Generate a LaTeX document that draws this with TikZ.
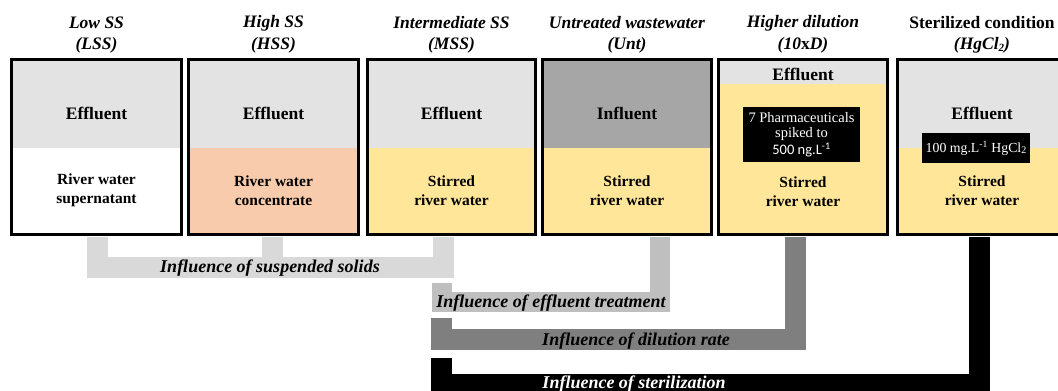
\documentclass[tikz,border=0pt]{standalone}
\usepackage{fontspec}
\setmainfont{Liberation Serif}
\newfontfamily\calib{Carlito}
\definecolor{topgray}{HTML}{E3E3E3}
\definecolor{salmon}{HTML}{F8CBAD}
\definecolor{paleyellow}{HTML}{FFE699}
\definecolor{influgray}{HTML}{A6A6A6}
\definecolor{brA}{HTML}{D9D9D9}
\definecolor{brB}{HTML}{BFBFBF}
\definecolor{brC}{HTML}{7F7F7F}
\tikzset{
  ttl/.style={font=\fontsize{17.5}{20}\selectfont\bfseries\itshape, align=center, inner sep=0pt},
  ttlup/.style={font=\fontsize{17.5}{20}\selectfont\bfseries, align=center, inner sep=0pt},
  bigtxt/.style={font=\fontsize{17.5}{20}\selectfont\bfseries, inner sep=0pt},
  lowtxt/.style={font=\fontsize{15.5}{19}\selectfont\bfseries, align=center, inner sep=0pt},
  boxframe/.style={draw=black, line width=2.8pt},
  bracket/.style={line width=21pt, miter limit=10},
  brlabel/.style={font=\fontsize{18}{20}\selectfont\bfseries\itshape, inner sep=0pt},
  blacklabel/.style={fill=black, text=white, inner sep=0pt, align=center}
}
\begin{document}
\begin{tikzpicture}[x=1pt,y=-1pt]
\useasboundingbox (0,0) rectangle (1058,391);
% ---------- titles ----------
\node[ttl] (t1) at (96.5,23) {Low SS};
\node[ttl] (t1b) at (96.5,45) {(LSS)};
\node[ttl] (t2) at (273.5,23) {High SS};
\node[ttl] (t2b) at (273.5,45) {(HSS)};
\node[ttl] (t3) at (451.5,23) {Intermediate SS};
\node[ttl] (t3b) at (451.5,45) {(MSS)};
\node[ttl] (t4) at (627,23) {Untreated wastewater};
\node[ttl] (t4b) at (627,45) {(\textit{Unt})};
\node[ttl] (t5) at (803,23) {Higher dilution};
\node[ttl] (t5b) at (803,45) {(\textit{10}\textup{x}\textit{D})};
\node[ttlup] (t6) at (982,23) {Sterilized condition};
\node[ttl] (t6b) at (982,45) {(HgCl\raisebox{-0.25ex}{\fontsize{11}{12}\selectfont 2})};
% ---------- box 1 LSS ----------
\fill[topgray] (10,58) rectangle (183,148);
\fill[white] (10,148) rectangle (183,236);
\draw[boxframe] (11.4,59.4) rectangle (181.6,234.6);
% ---------- box 2 HSS ----------
\fill[topgray] (187,58) rectangle (360,148);
\fill[salmon] (187,148) rectangle (360,236);
\draw[boxframe] (188.4,59.4) rectangle (358.6,234.6);
% ---------- box 3 MSS ----------
\fill[topgray] (366,58) rectangle (537,148);
\fill[paleyellow] (366,148) rectangle (537,236);
\draw[boxframe] (367.4,59.4) rectangle (535.6,234.6);
% ---------- box 4 Unt ----------
\fill[influgray] (541,58) rectangle (713,148);
\fill[paleyellow] (541,148) rectangle (713,236);
\draw[boxframe] (542.4,59.4) rectangle (711.6,234.6);
% ---------- box 5 10xD ----------
\fill[topgray] (717,58) rectangle (889,84);
\fill[paleyellow] (717,84) rectangle (889,236);
\draw[boxframe] (718.4,59.4) rectangle (887.6,234.6);
% ---------- box 6 HgCl2 ----------
\fill[topgray] (896,58) rectangle (1068,148);
\fill[paleyellow] (896,148) rectangle (1068,236);
\draw[boxframe] (897.4,59.4) rectangle (1066.6,234.6);
% ---------- box texts ----------
\node[bigtxt] (e1) at (96.5,113) {Effluent};
\node[lowtxt] (l1) at (96.5,190.5) {River water\\supernatant};
\node[bigtxt] (e2) at (273.5,113) {Effluent};
\node[lowtxt] (l2) at (273.5,190.5) {River water\\concentrate};
\node[bigtxt] (e3) at (451.5,113) {Effluent};
\node[lowtxt] (l3) at (451.5,190.5) {Stirred\\river water};
\node[bigtxt] (e4) at (627,113) {Influent};
\node[lowtxt] (l4) at (627,190.5) {Stirred\\river water};
\node[bigtxt] (e5) at (803,74) {Effluent};
\node[blacklabel, minimum width=117pt, minimum height=55pt] (k5) at (801.5,134.5) {};
\node[text=white, inner sep=0pt, font=\fontsize{14.5}{16}\selectfont] (k5a) at (801.5,118) {7 Pharmaceuticals};
\node[text=white, inner sep=0pt, font=\fontsize{14.5}{16}\selectfont] (k5b) at (801.5,134) {spiked to};
\node[text=white, inner sep=0pt, font=\calib\fontsize{14.5}{16}\selectfont] (k5c) at (801.5,150) {500 ng.L\textsuperscript{-1}};
\node[lowtxt] (l5) at (803,191.5) {Stirred\\river water};
\node[bigtxt] (e6) at (982,113) {Effluent};
\node[blacklabel, minimum width=108pt, minimum height=30pt] (k6) at (976,148) {};
\node[text=white, inner sep=0pt, font=\fontsize{13.8}{16}\selectfont] (k6a) at (976,148) {100 mg.L\textsuperscript{-1}\ HgCl\raisebox{-0.2ex}{\fontsize{10}{10}\selectfont 2}};
\node[lowtxt] (l6) at (982,190.5) {Stirred\\river water};
% ---------- bracket anchor coordinates ----------
\coordinate (b1) at (97,237);
\coordinate (b2) at (272,237);
\coordinate (b3) at (443,237);
\coordinate (b4) at (659.5,237);
\coordinate (b5) at (795,237);
\coordinate (b6) at (979,237);
\coordinate (s2) at (441.5,283);
\coordinate (s3) at (441.5,318);
\coordinate (s4) at (441,358);
% ---------- brackets ----------
\draw[bracket, brA] (b1) |- (b3 |- 0,267.5) -- (b3);
\draw[bracket, brA] (b2) -- (b2 |- 0,267.5);
\draw[bracket, brB, line width=20pt] (s2) |- (b4 |- 0,302) -- (b4);
\draw[bracket, brC] (s3) |- (b5 |- 0,339.5) -- (b5);
\draw[bracket, black] (s4) |- (b6 |- 0,384.5) -- (b6);
% ---------- bracket labels ----------
\node[brlabel] (g1) at (270,268) {Influence of suspended solids};
\node[brlabel] (g2) at (551,303) {Influence of effluent treatment};
\node[brlabel] (g3) at (636,341) {Influence of dilution rate};
\node[brlabel, text=white] (g4) at (634,384) {Influence of sterilization};
\end{tikzpicture}
\end{document}
